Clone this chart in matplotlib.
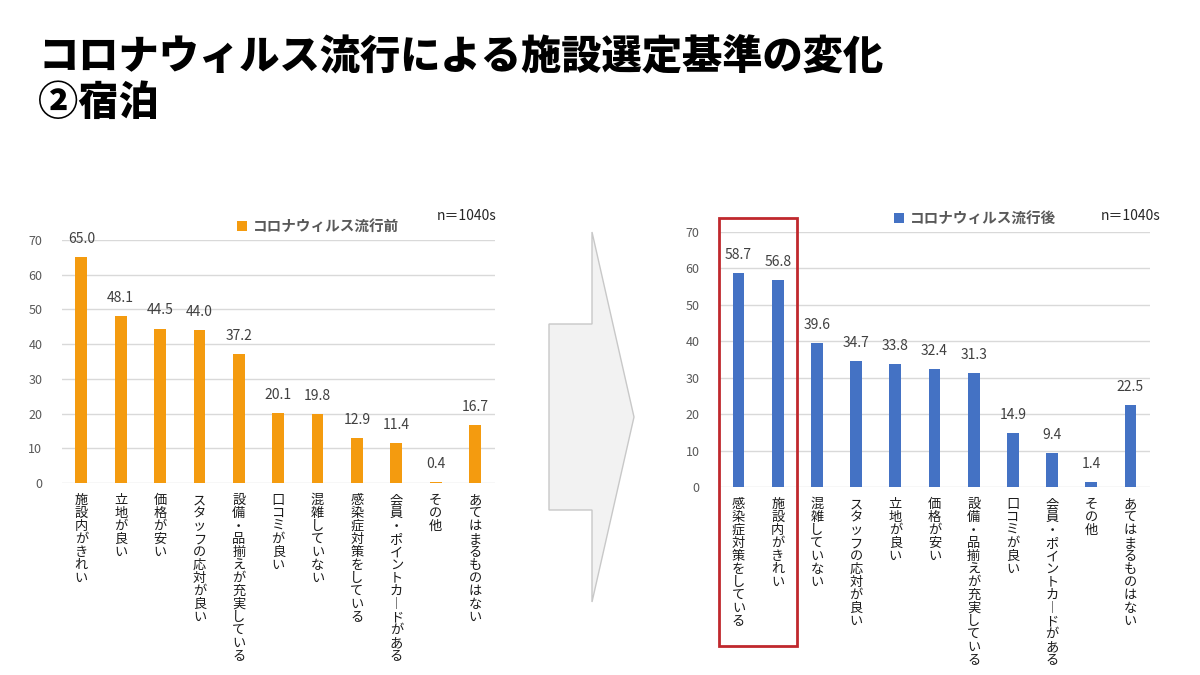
import matplotlib
matplotlib.use("Agg")
import matplotlib.pyplot as plt
from matplotlib.patches import Polygon, Rectangle
from matplotlib import transforms

plt.rcParams['font.family'] = ['Noto Sans CJK JP', 'DejaVu Sans']

title_1 = "コロナウィルス流行による施設選定基準の変化"
title_2 = "②宿泊"
n_text = "n＝1040s"

before_label = "コロナウィルス流行前"
before_cats = ["施設内がきれい", "立地が良い", "価格が安い", "スタッフの応対が良い",
               "設備・品揃えが充実している", "口コミが良い", "混雑していない",
               "感染症対策をしている", "会員・ポイントカードがある", "その他",
               "あてはまるものはない"]
before_vals = [65.0, 48.1, 44.5, 44.0, 37.2, 20.1, 19.8, 12.9, 11.4, 0.4, 16.7]

after_label = "コロナウィルス流行後"
after_cats = ["感染症対策をしている", "施設内がきれい", "混雑していない",
              "スタッフの応対が良い", "立地が良い", "価格が安い",
              "設備・品揃えが充実している", "口コミが良い",
              "会員・ポイントカードがある", "その他", "あてはまるものはない"]
after_vals = [58.7, 56.8, 39.6, 34.7, 33.8, 32.4, 31.3, 14.9, 9.4, 1.4, 22.5]

yticks = [0, 10, 20, 30, 40, 50, 60, 70]

W, H = 1200, 675
fig = plt.figure(figsize=(12, 6.75), dpi=100)


def px(x, y):
    return x / W, 1 - y / H


def vertical(s):
    # vertical writing: long vowel mark becomes a vertical stroke
    return "\n".join(s.replace("ー", "︱"))


def bar_panel(rect, cats, vals, color, label, legend_xy):
    ax = fig.add_axes(rect)
    x = range(len(cats))
    ax.bar(x, vals, width=0.3, color=color, label=label, zorder=3)
    ax.set_xlim(-0.5, len(cats) - 0.5)
    ax.set_ylim(0, 70)
    ax.set_yticks(yticks)
    ax.set_xticks([])
    ax.grid(axis='y', color='#D9D9D9', linewidth=1, zorder=0)
    for s in ax.spines.values():
        s.set_visible(False)
    ax.tick_params(axis='y', length=0, pad=14, labelsize=9, labelcolor='#595959')
    for i, v in enumerate(vals):
        ax.annotate(f"{v:.1f}", (i, v), xytext=(0, 13), textcoords='offset points',
                    ha='center', va='center', fontsize=10, color='#404040',
                    annotation_clip=False)
    for i, c in enumerate(cats):
        ax.annotate(vertical(c), (i, 0), xytext=(0, -8), textcoords='offset points',
                    ha='center', va='top', fontsize=9.5, color='#1a1a1a',
                    linespacing=1.0, annotation_clip=False)
    ax.legend(loc='center', bbox_to_anchor=legend_xy, bbox_transform=fig.transFigure,
              frameon=False, handlelength=0.7, handleheight=0.7, handletextpad=0.4,
              prop={'size': 10.5, 'weight': 'bold'}, labelcolor='#595959')
    return ax


ax1 = bar_panel([61.7 / W, 1 - 483 / H, 433 / W, 243 / H], before_cats, before_vals,
                '#F49B0F', before_label, px(318, 226))
ax2 = bar_panel([719 / W, 1 - 487 / H, 431 / W, 255 / H], after_cats, after_vals,
                '#4472C4', after_label, px(975, 218))

fig.text(*px(437, 216), n_text, ha='left', va='center', fontsize=10, color='#262626')
fig.text(*px(1101, 216), n_text, ha='left', va='center', fontsize=10, color='#262626')

# red box around the top two after-items
tr = transforms.blended_transform_factory(ax2.transData, fig.transFigure)
y0 = 1 - 646 / H
y1 = 1 - 218 / H
ax2.add_patch(Rectangle((-0.5, y0), 2.0, y1 - y0, transform=tr, fill=False,
                        edgecolor='#C0282D', linewidth=2, clip_on=False, zorder=5))

# grey arrow between the panels
arrow_pts = [(592, 232), (592, 324), (549, 324), (549, 510), (592, 510), (592, 602), (634, 417)]
fig.patches.append(Polygon([px(*p) for p in arrow_pts], closed=True, transform=fig.transFigure,
                           facecolor='#F2F2F2', edgecolor='#C8C8C8', linewidth=1))

fig.text(*px(38, 56), title_1, ha='left', va='center', fontsize=29, fontweight='black', color='black')
fig.text(*px(38, 103), title_2, ha='left', va='center', fontsize=29, fontweight='black', color='black')

fig.savefig("out.png", dpi=100)
